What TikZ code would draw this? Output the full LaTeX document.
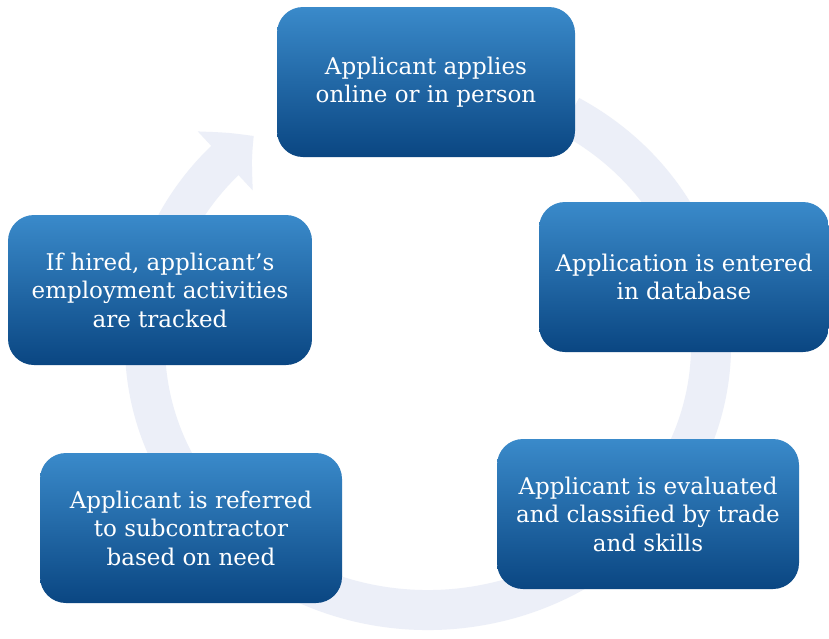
\documentclass[tikz,border=0pt]{standalone}
\usepackage{fontspec}
\setmainfont{DejaVu Serif}
\usetikzlibrary{arrows.meta,bending}
\definecolor{boxtop}{HTML}{3A8ACA}
\definecolor{boxmid}{HTML}{1C66A6}
\definecolor{boxbot}{HTML}{0A4682}
\definecolor{ringfill}{HTML}{ECEFF8}
\begin{document}
\begin{tikzpicture}[x=1pt,y=-1pt,
  stepbox/.style={rounded corners=26pt, minimum width=298pt, minimum height=150pt,
    top color=boxtop, middle color=boxmid, bottom color=boxbot,
    text=white, align=center, inner sep=0pt,
    font=\fontsize{23}{28.5}\selectfont},
  ringline/.style={line width=40pt, draw=ringfill, -{Triangle[width=78pt,length=38pt,bend]}}]
\useasboundingbox (0,0) rectangle (829,638);
\fill[white] (0,0) rectangle (829,638);
\draw[ringline] (569.5,115.5) arc[start angle=-60, end angle=232, x radius=283, y radius=265];
\node[stepbox] (s1) at (426,82) {Applicant applies\\online or in person};
\node[stepbox, minimum width=290pt] (s2) at (684,277) {Application is entered\\in database};
\node[stepbox, minimum width=302pt] (s3) at (648,514) {Applicant is evaluated\\and classified by trade\\and skills};
\node[stepbox, minimum width=302pt] (s4) at (191,528) {Applicant is referred\\to subcontractor\\based on need};
\node[stepbox, minimum width=304pt] (s5) at (160,290) {If hired, applicant's\\employment activities\\are tracked};
\end{tikzpicture}
\end{document}
